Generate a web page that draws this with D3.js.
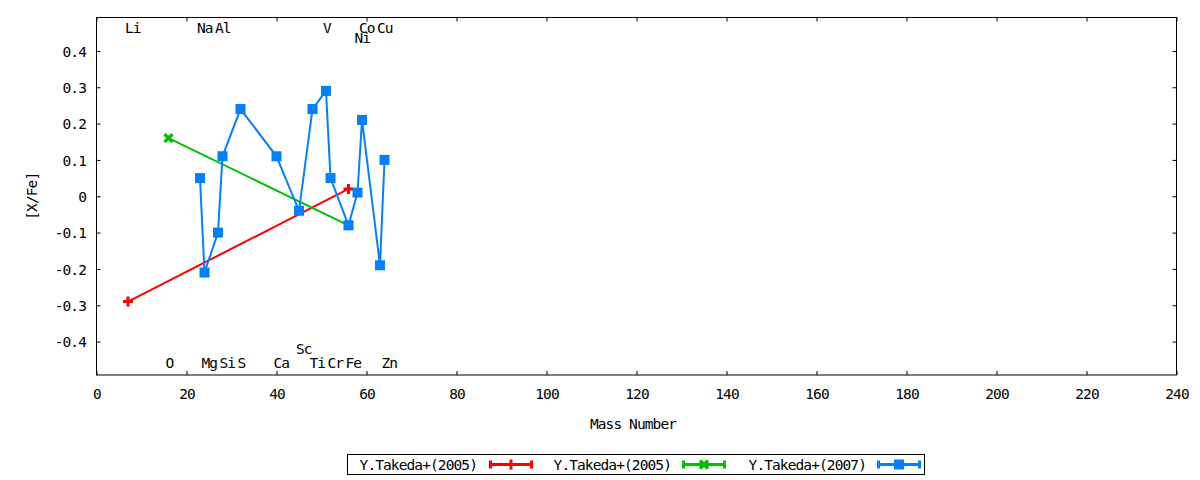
<!DOCTYPE html>
<html>
<head>
<meta charset="utf-8">
<script src="https://cdn.jsdelivr.net/npm/d3@7"></script>
<style>
  body { margin: 0; background: #fff; }
  text { font-family: "DejaVu Sans Mono", monospace; font-size: 14.5px; letter-spacing: -0.9px; fill: #000; }
</style>
</head>
<body>
<svg id="chart" width="1200" height="480"></svg>
<script>
// element labels along the top and bottom of the plot
const labelNames = ["Li", "O", "Na", "Mg", "Al", "Si", "S", "Ca", "Sc", "Ti", "V", "Cr", "Fe", "Ni", "Co", "Cu", "Zn"];
const labelMass = [7, 16, 23, 24, 27, 28, 32, 40, 45, 48, 51, 52, 56, 58, 59, 63, 64];
const labelY = [0.463, -0.459, 0.463, -0.459, 0.463, -0.459, -0.459, -0.459, -0.421, -0.459, 0.463, -0.459, -0.459, 0.437, 0.463, 0.463, -0.459];

// series
const takeda2005aMass = [7, 56];
const takeda2005aVal = [-0.29, 0.02];
const takeda2005bMass = [16, 56];
const takeda2005bVal = [0.16, -0.08];
const takeda2007Mass = [23, 24, 27, 28, 32, 40, 45, 48, 51, 52, 56, 58, 59, 63, 64];
const takeda2007Val = [0.05, -0.21, -0.10, 0.11, 0.24, 0.11, -0.04, 0.24, 0.29, 0.05, -0.08, 0.01, 0.21, -0.19, 0.10];

const seriesNames = ["Y.Takeda+(2005)", "Y.Takeda+(2005)", "Y.Takeda+(2007)"];

// ticks
const xTicks = [0, 20, 40, 60, 80, 100, 120, 140, 160, 180, 200, 220, 240];
const yTicks = [-0.4, -0.3, -0.2, -0.1, 0, 0.1, 0.2, 0.3, 0.4];

const svg = d3.select("#chart");
const plotLeft = 96.5, plotRight = 1176.5, plotTop = 17.5, plotBottom = 375;

const xScale = d3.scaleLinear().domain([0, 240]).range([plotLeft, plotRight]);
const yScale = d3.scaleLinear().domain([-0.492, 0.492]).range([plotBottom, plotTop]);

const yFmt = (d) => (Math.round(d * 10) / 10).toString();

// axes, ticks inward on all four sides
const xAxisG = svg.append("g")
  .attr("transform", `translate(0,${plotBottom})`)
  .call(d3.axisBottom(xScale).tickValues(xTicks).tickSize(-4).tickSizeOuter(0));
xAxisG.selectAll("text").attr("y", 19).attr("dy", "0.35em");

svg.append("g")
  .attr("transform", `translate(0,${plotTop})`)
  .call(d3.axisTop(xScale).tickValues(xTicks).tickSize(-4).tickSizeOuter(0).tickFormat(""));

const yAxisG = svg.append("g")
  .attr("transform", `translate(${plotLeft},0)`)
  .call(d3.axisLeft(yScale).tickValues(yTicks).tickSize(-4).tickSizeOuter(0).tickPadding(10.5).tickFormat(yFmt));
yAxisG.selectAll("text").attr("dy", "0.36em");

svg.append("g")
  .attr("transform", `translate(${plotRight},0)`)
  .call(d3.axisRight(yScale).tickValues(yTicks).tickSize(-4).tickSizeOuter(0).tickFormat(""));

svg.selectAll(".domain").remove();
svg.selectAll(".tick line").attr("stroke", "#000");
svg.selectAll("g").attr("font-family", null).attr("font-size", null);

svg.append("rect")
  .attr("x", plotLeft).attr("y", plotTop)
  .attr("width", plotRight - plotLeft).attr("height", plotBottom - plotTop)
  .attr("fill", "none").attr("stroke", "#000").attr("stroke-width", 1);

// axis titles
svg.append("text")
  .attr("x", 633).attr("y", 424)
  .attr("dy", "0.35em").attr("text-anchor", "middle")
  .text("Mass Number");

svg.append("text")
  .attr("transform", `translate(32,${yScale(0)}) rotate(-90)`)
  .attr("dy", "0.35em").attr("text-anchor", "middle")
  .text("[X/Fe]");

// element labels
svg.append("g").selectAll("text")
  .data(labelNames)
  .join("text")
  .attr("x", (d, i) => xScale(labelMass[i]) - 3)
  .attr("y", (d, i) => yScale(labelY[i]))
  .attr("dy", "0.35em")
  .text((d) => d);

// markers
const markerPlus = (g, color) => g.append("path")
  .attr("d", "M-5,0H5M0,-5V5").attr("stroke", color).attr("stroke-width", 3).attr("fill", "none");
const markerCross = (g, color) => g.append("path")
  .attr("d", "M-4,-4L4,4M-4,4L4,-4").attr("stroke", color).attr("stroke-width", 3.5).attr("fill", "none");
const markerSquare = (g, color) => g.append("rect")
  .attr("x", -5).attr("y", -5).attr("width", 10).attr("height", 10).attr("fill", color);

const series = [
  { mass: takeda2005aMass, val: takeda2005aVal, color: "#ff0000", marker: markerPlus },
  { mass: takeda2005bMass, val: takeda2005bVal, color: "#00c000", marker: markerCross },
  { mass: takeda2007Mass, val: takeda2007Val, color: "#0080ff", marker: markerSquare },
];

const lineGen = d3.line()
  .x((d) => xScale(d[0]))
  .y((d) => yScale(d[1]));

series.forEach((s) => {
  const pts = s.mass.map((m, i) => [m, s.val[i]]);
  const g = svg.append("g");
  g.append("path")
    .attr("d", lineGen(pts))
    .attr("fill", "none")
    .attr("stroke", s.color)
    .attr("stroke-width", 2);
  pts.forEach((p) => {
    const mg = g.append("g").attr("transform", `translate(${xScale(p[0])},${yScale(p[1])})`);
    s.marker(mg, s.color);
  });
});

// legend
const legend = svg.append("g");
legend.append("rect")
  .attr("x", 347.5).attr("y", 454.5).attr("width", 577).attr("height", 20)
  .attr("fill", "#fff").attr("stroke", "#000");

const legendTextEnd = [477, 671, 866];
const legendSample = [[489, 533], [682, 726], [877, 921]];
const legendY = 464.5;

series.forEach((s, i) => {
  legend.append("text")
    .attr("x", legendTextEnd[i]).attr("y", legendY)
    .attr("dy", "0.35em").attr("text-anchor", "end")
    .text(seriesNames[i]);
  const [x1, x2] = legendSample[i];
  legend.append("path")
    .attr("d", `M${x1},${legendY}H${x2}M${x1 + 1.5},${legendY - 4}V${legendY + 4}M${x2 - 1.5},${legendY - 4}V${legendY + 4}`)
    .attr("stroke", s.color).attr("stroke-width", 3).attr("fill", "none");
  const mg = legend.append("g").attr("transform", `translate(${(x1 + x2) / 2},${legendY})`);
  s.marker(mg, s.color);
});
</script>
</body>
</html>
